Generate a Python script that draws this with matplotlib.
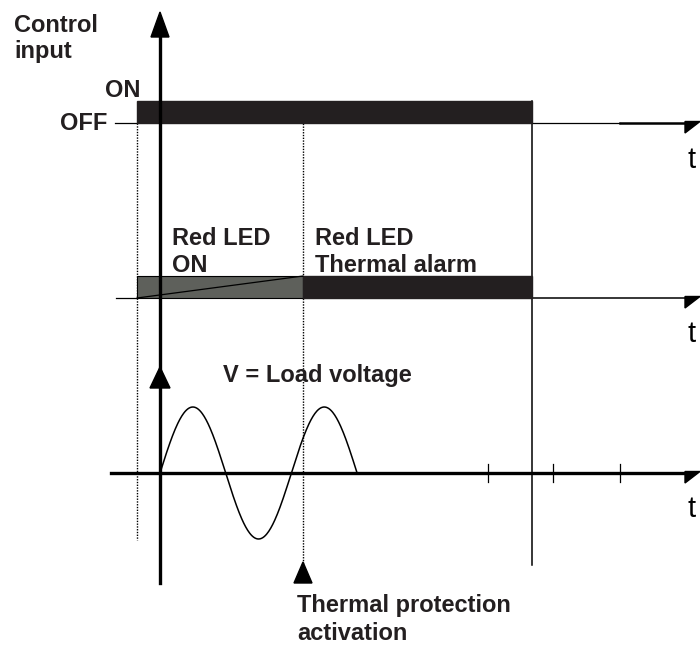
import numpy as np
import matplotlib.pyplot as plt
from matplotlib.patches import Polygon, Rectangle

plt.rcParams['font.family'] = ['Liberation Sans', 'DejaVu Sans']

# time events (diagram units, x grows to the right)
t_on = 137          # control input goes ON
t_alarm = 303       # thermal protection activation
t_off = 532         # control input goes OFF
t_axis0 = 160       # main vertical axis
t_end = 700
tick_marks = [488, 553, 620]

# row baselines (diagram units, y grows downwards)
row_ctrl = 123
row_led = 298
row_load = 473
bar_h = 22

# load voltage: 1.5 periods of a sine
v_start = 160
v_half_period = 65.7
v_halves = 3
v_amp = 66

bar_dark = '#231f20'
bar_gray = '#5e605b'

fig = plt.figure(figsize=(7, 6.45), dpi=100)
ax = fig.add_axes([0, 0, 1, 1])
ax.set_xlim(0, 700)
ax.set_ylim(645, 0)
ax.axis('off')

def arrow_up(x, tip, h, w):
    ax.add_patch(Polygon([(x, tip), (x - w / 2, tip + h), (x + w / 2, tip + h)],
                         closed=True, color='black', zorder=5))

def arrow_right(y, x0, x1, h):
    ax.add_patch(Polygon([(x0, y - 1.5), (x1, y - 1.5), (x0, y + h)],
                         closed=True, color='black', zorder=5))

# main vertical axis
ax.plot([t_axis0, t_axis0], [30, 583], color='black', lw=2.4, zorder=4)
arrow_up(t_axis0, 12, 25, 18)
arrow_up(t_axis0, 367, 21, 20)

# dotted event lines
ax.plot([t_on, t_on], [row_ctrl, 540], color='black', lw=1, ls=(0, (1, 1)))
ax.plot([t_alarm, t_alarm], [row_ctrl - bar_h, 565], color='black', lw=1, ls=(0, (1, 1)))
arrow_up(t_alarm, 562, 21, 18)
# off line
ax.plot([t_off, t_off], [row_ctrl - bar_h, 565], color='black', lw=1.1)

# control input row
ax.add_patch(Rectangle((t_on, row_ctrl - bar_h), t_off - t_on, bar_h,
                       color=bar_dark, zorder=3))
ax.plot([115, t_on], [row_ctrl, row_ctrl], color='black', lw=0.9)
ax.plot([t_off, 620], [row_ctrl, row_ctrl], color='black', lw=0.9)
ax.plot([620, 686], [row_ctrl, row_ctrl], color='black', lw=1.8)
arrow_right(row_ctrl, 685, t_end, 10)

# LED row
ax.add_patch(Rectangle((t_on, row_led - bar_h), t_alarm - t_on, bar_h,
                       facecolor=bar_gray, edgecolor='black', lw=0.8, zorder=3))
ax.plot([t_on, t_alarm], [row_led, row_led - bar_h], color='black', lw=0.9, zorder=4)
ax.add_patch(Rectangle((t_alarm, row_led - bar_h), t_off - t_alarm, bar_h,
                       color=bar_dark, zorder=3))
ax.plot([116, t_on], [row_led, row_led], color='black', lw=0.9)
ax.plot([t_off, 686], [row_led, row_led], color='black', lw=1.1)
arrow_right(row_led, 685, t_end, 10)

# load voltage row
ax.plot([111, 686], [row_load, row_load], color='black', lw=2.4, zorder=4)
arrow_right(row_load, 685, t_end, 10)
for tk in tick_marks:
    ax.plot([tk, tk], [row_load - 9, row_load + 9], color='black', lw=0.9)
x = np.linspace(v_start, v_start + v_halves * v_half_period, 300)
v = v_amp * np.sin(np.pi * (x - v_start) / v_half_period)
ax.plot(x, row_load - v, color='black', lw=1.1, zorder=4)

# labels
bold = dict(fontsize=17, fontweight='bold', color='#231f20', va='baseline')
ax.text(14, 32, 'Control', ha='left', **bold)
ax.text(14, 58, 'input', ha='left', **bold)
ax.text(140, 97, 'ON', ha='right', **bold)
ax.text(107, 130, 'OFF', ha='right', **bold)
ax.text(172, 245, 'Red LED', ha='left', **bold)
ax.text(172, 272, 'ON', ha='left', **bold)
ax.text(315, 245, 'Red LED', ha='left', **bold)
ax.text(315, 272, 'Thermal alarm', ha='left', **bold)
ax.text(223, 382, 'V = Load voltage', ha='left', **bold)
ax.text(297, 612, 'Thermal protection', ha='left', **bold)
ax.text(297, 640, 'activation', ha='left', **bold)
for yy in (168, 342, 517):
    ax.text(687, yy, 't', va='baseline', ha='left', fontsize=21, color='black')

fig.savefig('out.png', dpi=100)
